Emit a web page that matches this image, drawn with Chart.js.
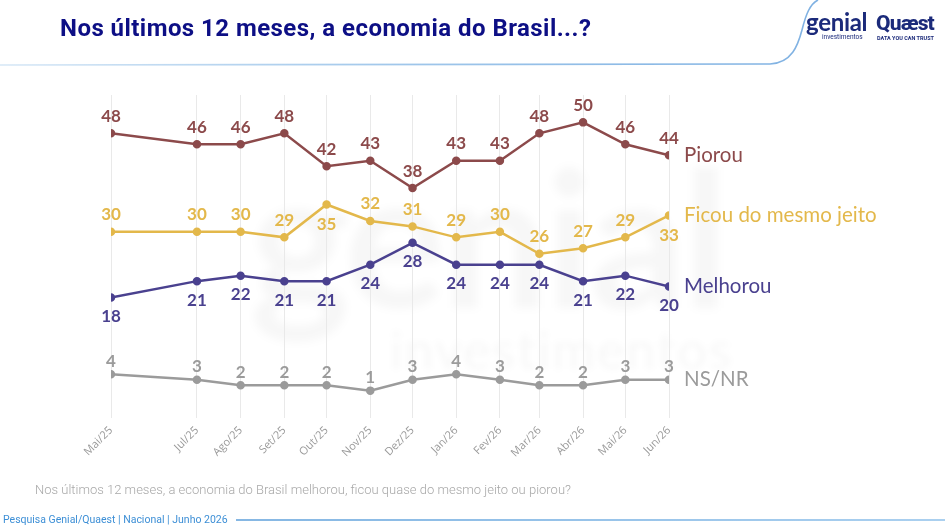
<!DOCTYPE html>
<html>
<head>
<meta charset="utf-8">
<script src="https://cdn.jsdelivr.net/npm/chart.js@4"></script>
<style>
  html,body{margin:0;padding:0;background:#fff;}
  #wrap{position:relative;width:945px;height:532px;overflow:hidden;background:#fff;}
  #c{position:absolute;left:0;top:0;}
  .t{position:absolute;white-space:nowrap;}
  #title{left:60px;top:14px;font:700 24px Roboto, sans-serif;color:#0d0f85;letter-spacing:0.45px;}
  #q{left:35px;top:482px;font:300 13px Roboto, sans-serif;color:#a8a8a8;}
  #foot{left:3px;top:513px;font:400 10.5px Roboto, sans-serif;color:#3d8fd6;}
  #genial{left:806px;top:7px;font:700 24px Lato, sans-serif;color:#1b2a7a;letter-spacing:-0.3px;}
  #inv{left:822px;top:33px;font:400 6.5px Roboto, sans-serif;color:#1b2a7a;}
  #quaest{left:876px;top:11px;font:800 21px Roboto, sans-serif;color:#1b2a7a;letter-spacing:-0.8px;}
  #trust{left:877px;top:35px;font:700 5.5px Roboto, sans-serif;color:#1b2a7a;}
  #wm1{left:250px;top:120px;font:700 190px Lato, sans-serif;color:rgba(0,0,0,0.03);filter:blur(4px);letter-spacing:-4px;}
  #wm2{left:390px;top:318px;font:400 52px Lato, sans-serif;color:rgba(0,0,0,0.03);filter:blur(3px);letter-spacing:2px;}
  svg{position:absolute;left:0;top:0;}
</style>
</head>
<body>
<div id="wrap">
  <div class="t" id="wm1">genial</div>
  <div class="t" id="wm2">investimentos</div>
  <svg width="945" height="532">
    <defs>
      <linearGradient id="g1" gradientUnits="userSpaceOnUse" x1="0" x2="820" y1="0" y2="0">
        <stop offset="0" stop-color="#d6e7f6"/>
        <stop offset="0.5" stop-color="#9fc6ea"/>
        <stop offset="1" stop-color="#7fb1e2"/>
      </linearGradient>
      <linearGradient id="g2" gradientUnits="userSpaceOnUse" x1="236" x2="945" y1="0" y2="0">
        <stop offset="0" stop-color="#5d9fda"/>
        <stop offset="1" stop-color="#8ec0ea"/>
      </linearGradient>
    </defs>
    <path d="M0,65 L770,64 C792,63 798,45 802,30 C806,14 810,4 818,0" fill="none" stroke="url(#g1)" stroke-width="1.6"/>
    <line x1="236" y1="520" x2="945" y2="520" stroke="url(#g2)" stroke-width="1.6"/>
  </svg>
  <canvas id="c" width="945" height="532"></canvas>
  <div class="t" id="title">Nos últimos 12 meses, a economia do Brasil...?</div>
  <div class="t" id="genial">genial</div>
  <div class="t" id="inv">investimentos</div>
  <div class="t" id="quaest">Quæst</div>
  <div class="t" id="trust">DATA YOU CAN TRUST</div>
  <div class="t" id="q">Nos últimos 12 meses, a economia do Brasil melhorou, ficou quase do mesmo jeito ou piorou?</div>
  <div class="t" id="foot">Pesquisa Genial/Quaest | Nacional | Junho 2026</div>
</div>
<script>
// ---- data ----
const surveyDates = ['2025-05-01','2025-07-01','2025-08-01','2025-09-01','2025-10-01','2025-11-01','2025-12-01','2026-01-01','2026-02-01','2026-03-01','2026-04-01','2026-05-01','2026-06-01'];
const tickLabels  = ['Mai/25','Jul/25','Ago/25','Set/25','Out/25','Nov/25','Dez/25','Jan/26','Fev/26','Mar/26','Abr/26','Mai/26','Jun/26'];
const piorou   = [48,46,46,48,42,43,38,43,43,48,50,46,44];
const ficou    = [30,30,30,29,35,32,31,29,30,26,27,29,33];
const melhorou = [18,21,22,21,21,24,28,24,24,24,21,22,20];
const nsnr     = [4,3,2,2,2,1,3,4,3,2,2,3,3];
const seriesNames = ['Piorou','Ficou do mesmo jeito','Melhorou','NS/NR'];

// convert dates to day numbers for a linear (time-like) axis
const dayVals = surveyDates.map(d => Date.parse(d + 'T00:00:00Z') / 86400000);
const toPts = arr => arr.map((v, i) => ({x: dayVals[i], y: v}));

const colors = ['#8c4a4b', '#e3b84b', '#4a418f', '#9b9b9b'];

const labelPlugin = {
  id: 'valueLabels',
  afterDatasetsDraw(chart) {
    const ctx = chart.ctx;
    chart.data.datasets.forEach((ds, di) => {
      const meta = chart.getDatasetMeta(di);
      ctx.save();
      ctx.fillStyle = ds.borderColor;
      ctx.textAlign = 'center';
      ctx.textBaseline = 'middle';
      ctx.font = ds.lblFont;
      meta.data.forEach((pt, i) => {
        const below = ds.lblBelow(i);
        const off = below ? ds.lblOffBelow : -ds.lblOffAbove;
        ctx.fillText(String(ds.data[i].y), pt.x, pt.y + off);
      });
      // end label
      const last = meta.data[meta.data.length - 1];
      ctx.textAlign = 'left';
      ctx.font = '400 20.5px Lato, sans-serif';
      ctx.fillText(ds.label, last.x + 15, last.y);
      ctx.restore();
    });
  }
};

const ficouBelowIdx = [4, 12];
const mk = (label, arr, color, font, below, offA, offB) => ({
  label, data: toPts(arr), borderColor: color, backgroundColor: color,
  pointBackgroundColor: color, pointBorderColor: color,
  borderWidth: 2.5, pointRadius: 3, pointHoverRadius: 3, tension: 0,
  lblFont: font, lblBelow: below, lblOffAbove: offA, lblOffBelow: offB
});

new Chart(document.getElementById('c'), {
  type: 'line',
  data: {
    datasets: [
      mk(seriesNames[0], piorou, colors[0], '700 17px Lato, sans-serif', () => false, 17, 19),
      mk(seriesNames[1], ficou, colors[1], '700 17px Lato, sans-serif', i => ficouBelowIdx.includes(i), 17, 20),
      mk(seriesNames[2], melhorou, colors[2], '700 17px Lato, sans-serif', () => true, 17, 19),
      mk(seriesNames[3], nsnr, colors[3], '700 17px Lato, sans-serif', () => false, 13, 19)
    ]
  },
  options: {
    responsive: false,
    animation: false,
    events: [],
    layout: {padding: {left: 111, right: 276, top: 95, bottom: 54}},
    plugins: {legend: {display: false}, tooltip: {enabled: false}, title: {display: false}},
    scales: {
      y: {display: false, min: -4, max: 55},
      x: {
        type: 'linear',
        min: dayVals[0], max: dayVals[dayVals.length - 1],
        afterBuildTicks: s => { s.ticks = dayVals.map(v => ({value: v})); },
        afterFit: s => { s.height = 60; },
        border: {display: false},
        grid: {color: '#e9e9e9', lineWidth: 1, drawTicks: false},
        ticks: {
          autoSkip: false, minRotation: 45, maxRotation: 45, padding: 6,
          color: '#9a9a9a', font: {family: 'Open Sans', size: 11},
          callback: v => { const i = dayVals.indexOf(v); return i >= 0 ? tickLabels[i] : ''; }
        }
      }
    }
  },
  plugins: [labelPlugin]
});
</script>
</body>
</html>
